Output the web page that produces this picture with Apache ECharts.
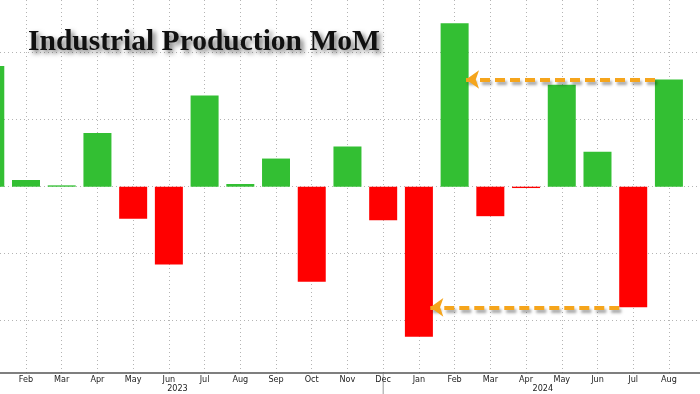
<!DOCTYPE html>
<html><head><meta charset="utf-8">
<script src="https://cdn.jsdelivr.net/npm/echarts@6/dist/echarts.min.js"></script>
<style>html,body{margin:0;padding:0;background:#fff}#c{width:700px;height:394px}</style>
</head><body><div id="c"></div>
<script>
// ---- data ----
const months = ['Jan','Feb','Mar','Apr','May','Jun','Jul','Aug','Sep','Oct','Nov','Dec',
                'Jan','Feb','Mar','Apr','May','Jun','Jul','Aug'];
const values = [0.90, 0.05, 0.01, 0.40, -0.24, -0.58, 0.68, 0.02, 0.21, -0.71, 0.30, -0.25,
                -1.12, 1.22, -0.22, -0.01, 0.76, 0.26, -0.90, 0.80];
const years = ['2023', '2024'];
const yearCenters = [5.24, 15.47];      // month-index position of each year label
const yearBoundaryIndex = 11;           // Dec 2023 separator tick
const arrowFrom = [19, 18];             // arrow start bar index (Aug 2024, Jul 2024)
const arrowTo = [13, 12];               // arrow target bar index (Feb 2024, Jan 2024)
const arrowValue = [0.80, -0.90];       // arrow level
const titleText = 'Industrial Production MoM';
const xRange = [0.272, 19.87];          // visible month-index window
const yRange = [-1.39, 1.393];

// ---- style ----
const GREEN = '#33bf33', RED = '#ff0000', ORANGE = '#f5a51c';
const BAR_W = 28, BAR_IDX_HALF = 0.39;
const FONT = "'Liberation Sans Narrow', 'DejaVu Sans Condensed', sans-serif";

const chart = echarts.init(document.getElementById('c'), null, {renderer: 'canvas'});
const gridDot = {color: '#b4b4b4', width: 1, type: [1, 3]};

chart.setOption({
  animation: false,
  backgroundColor: '#fff',
  title: {
    text: titleText, left: 28, top: 27, padding: 0,
    textStyle: {
      fontFamily: 'Liberation Serif', fontWeight: 'bold', fontSize: 29.5, color: '#111',
      textShadowColor: 'rgba(0,0,0,0.55)', textShadowBlur: 5,
      textShadowOffsetX: 3, textShadowOffsetY: 3
    }
  },
  grid: {left: 0, right: 0, top: 0, bottom: 21, containLabel: false},
  xAxis: {
    type: 'value', min: xRange[0], max: xRange[1], minInterval: 1, maxInterval: 1,
    splitNumber: 19,
    axisLine: {show: true, onZero: false, lineStyle: {color: '#555', width: 1.5}},
    axisTick: {show: false},
    axisLabel: {fontSize: 9, color: '#222', margin: 2, fontFamily: FONT,
      showMinLabel: false, showMaxLabel: false,
      formatter: (v) => Number.isInteger(v) && months[v] ? months[v] : ''},
    splitLine: {show: true, showMinLine: false, showMaxLine: false, lineStyle: gridDot}
  },
  yAxis: {
    type: 'value', min: yRange[0], max: yRange[1], splitNumber: 5,
    axisLine: {show: false}, axisTick: {show: false}, axisLabel: {show: false},
    splitLine: {show: true, showMinLine: false, showMaxLine: false, lineStyle: gridDot}
  },
  series: [{
    type: 'bar', barWidth: BAR_W, clip: true,
    data: values.map((v, i) => ({value: [i, v], itemStyle: {color: v >= 0 ? GREEN : RED}})),
    z: 3
  }, {
    type: 'line', data: [], z: 5,
    markLine: {
      silent: true, animation: false,
      symbol: ['none', 'arrow'], symbolSize: [14, 13],
      label: {show: false},
      lineStyle: {color: ORANGE, width: 4, type: [10, 5], opacity: 1,
        shadowColor: 'rgba(0,0,0,0.35)', shadowBlur: 3, shadowOffsetX: 2, shadowOffsetY: 3},
      data: arrowFrom.map((f, i) => [
        {coord: [f - BAR_IDX_HALF, arrowValue[i]]},
        {coord: [arrowTo[i] + BAR_IDX_HALF - 0.07, arrowValue[i]]}
      ])
    }
  }]
});

const yBase = chart.convertToPixel({yAxisIndex: 0}, yRange[0]);
const sepX = chart.convertToPixel({xAxisIndex: 0}, yearBoundaryIndex);
chart.setOption({
  graphic: years.map((t, i) => ({
    type: 'text', silent: true,
    x: chart.convertToPixel({xAxisIndex: 0}, yearCenters[i]), y: yBase + 16,
    style: {text: t, fill: '#222', fontSize: 9, align: 'center', verticalAlign: 'middle',
      fontFamily: FONT}
  })).concat([{
    type: 'line', silent: true,
    shape: {x1: sepX, y1: yBase + 1, x2: sepX, y2: yBase + 21},
    style: {stroke: '#999', lineWidth: 1}
  }])
});
</script></body></html>
